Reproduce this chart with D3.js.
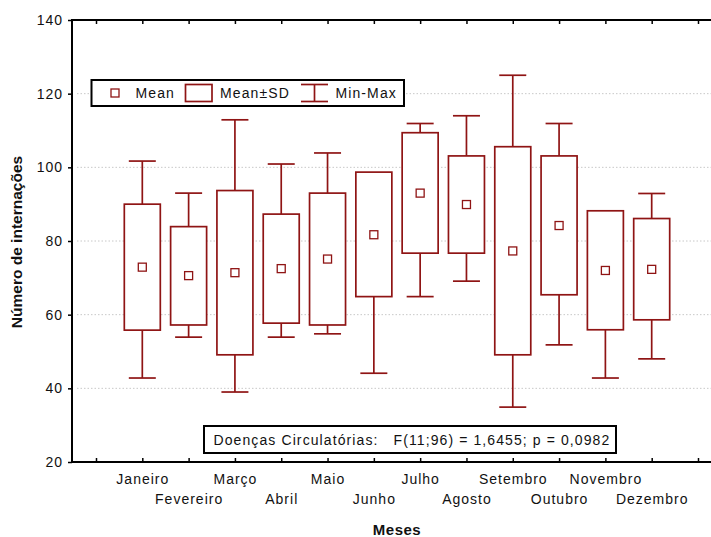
<!DOCTYPE html>
<html>
<head>
<meta charset="utf-8">
<script src="https://cdn.jsdelivr.net/npm/d3@7"></script>
<style>
  html, body { margin: 0; padding: 0; background: #fff; }
  svg { display: block; }
  text { font-family: "Liberation Sans", Arial, sans-serif; fill: #111; }
</style>
</head>
<body>
<svg id="chart" width="711" height="537"></svg>
<script>
// ---- data ----
const months = ["Janeiro", "Fevereiro", "Março", "Abril", "Maio", "Junho",
                "Julho", "Agosto", "Setembro", "Outubro", "Novembro", "Dezembro"];
const means  = [72.9, 70.6, 71.4, 72.5, 75.1, 81.7, 93.0, 89.9, 77.3, 84.2, 72.0, 72.3];
const sdLow  = [55.8, 57.2, 49.1, 57.7, 57.2, 64.9, 76.7, 76.7, 49.1, 65.4, 55.9, 58.6];
const sdHigh = [90.0, 83.9, 93.7, 87.3, 93.0, 98.7, 109.4, 103.1, 105.6, 103.1, 88.2, 86.1];
const mins   = [42.8, 53.9, 39.0, 53.9, 54.8, 44.1, 64.9, 69.1, 34.9, 51.8, 42.8, 48.0];
const maxs   = [101.7, 93.0, 112.9, 100.9, 103.9, 98.7, 111.9, 114.0, 125.0, 111.9, 88.2, 92.9];
const yTicks = [20, 40, 60, 80, 100, 120, 140];
const gridValues = [40, 60, 80, 100, 120];
const legendLabels = ["Mean", "Mean±SD", "Min-Max"];
const annotation = "Doenças Circulatórias:   F(11;96) = 1,6455; p = 0,0982";
const xTitle = "Meses";
const yTitle = "Número de internações";

// ---- layout ----
const W = 711, H = 537;
const pLeft = 72, pTop = 20, pBottom = 462;
const red = "#8f1414";
const svg = d3.select("#chart");

const x = d3.scaleLinear().domain([0, 13]).range([96, 698]);
const y = d3.scaleLinear().domain([20, 140]).range([pBottom, pTop]);

// gridlines
svg.append("g").selectAll("line").data(gridValues).join("line")
  .attr("x1", pLeft + 5).attr("x2", W)
  .attr("y1", d => y(d)).attr("y2", d => y(d))
  .attr("stroke", "#c8c8c8").attr("stroke-width", 1)
  .attr("stroke-dasharray", "1.5,2");

const bw = 36, cw = 27, ms = 8;
const g = svg.append("g").attr("stroke", red).attr("fill", "none").attr("stroke-width", 1.7);
months.forEach((m, i) => {
  const cx = x(i + 1);
  g.append("line").attr("x1", cx).attr("x2", cx).attr("y1", y(sdHigh[i])).attr("y2", y(maxs[i]));
  g.append("line").attr("x1", cx).attr("x2", cx).attr("y1", y(sdLow[i])).attr("y2", y(mins[i]));
  if (maxs[i] > sdHigh[i])
    g.append("line").attr("x1", cx - cw / 2).attr("x2", cx + cw / 2).attr("y1", y(maxs[i])).attr("y2", y(maxs[i]));
  g.append("line").attr("x1", cx - cw / 2).attr("x2", cx + cw / 2).attr("y1", y(mins[i])).attr("y2", y(mins[i]));
  g.append("rect").attr("x", cx - bw / 2).attr("y", y(sdHigh[i]))
    .attr("width", bw).attr("height", y(sdLow[i]) - y(sdHigh[i])).attr("fill", "#fff");
  g.append("rect").attr("x", cx - ms / 2).attr("y", y(means[i]) - ms / 2)
    .attr("width", ms).attr("height", ms).attr("stroke-width", 1.3);
});

const fontSize = "14px";
// left axis
const yAxis = svg.append("g").attr("transform", `translate(${pLeft},0)`)
  .call(d3.axisLeft(y).tickValues(yTicks).tickSize(4).tickPadding(5).tickFormat(d3.format("d")));
yAxis.select(".domain").remove();
yAxis.selectAll("line").attr("stroke", "#000").attr("stroke-width", 1.5);
yAxis.selectAll("text").style("font-size", fontSize).style("letter-spacing", "1px")
  .attr("fill", "#111");

// bottom axis
const xAxis = svg.append("g").attr("transform", `translate(0,${pBottom})`)
  .call(d3.axisBottom(x).tickValues(d3.range(0, 14)).tickSize(-4).tickPadding(14)
    .tickFormat(i => (i >= 1 && i <= 12) ? months[i - 1] : ""));
xAxis.select(".domain").remove();
xAxis.selectAll("line").attr("stroke", "#000").attr("stroke-width", 1.5);
xAxis.selectAll("text").style("font-size", fontSize).style("letter-spacing", "1px")
  .attr("fill", "#111")
  .attr("y", i => (i % 2 === 1) ? 12 : 32);

// top axis
const tAxis = svg.append("g").attr("transform", `translate(0,${pTop})`)
  .call(d3.axisTop(x).tickValues(d3.range(0, 14)).tickSize(-4).tickFormat(""));
tAxis.select(".domain").remove();
tAxis.selectAll("line").attr("stroke", "#000").attr("stroke-width", 1.5);

// frame lines
svg.append("line").attr("x1", pLeft).attr("x2", pLeft).attr("y1", pTop).attr("y2", pBottom)
  .attr("stroke", "#000").attr("stroke-width", 2);
svg.append("line").attr("x1", pLeft - 1).attr("x2", W).attr("y1", pBottom).attr("y2", pBottom)
  .attr("stroke", "#000").attr("stroke-width", 2);
svg.append("line").attr("x1", pLeft - 1).attr("x2", W).attr("y1", pTop).attr("y2", pTop)
  .attr("stroke", "#000").attr("stroke-width", 2);

// legend
const lg = svg.append("g");
lg.append("rect").attr("x", 91.5).attr("y", 80).attr("width", 312.5).attr("height", 26)
  .attr("fill", "#fff").attr("stroke", "#000").attr("stroke-width", 2);
const ly = 93;
lg.append("rect").attr("x", 111).attr("y", ly - 4).attr("width", 8).attr("height", 8)
  .attr("fill", "none").attr("stroke", red).attr("stroke-width", 1.3);
lg.append("rect").attr("x", 185.5).attr("y", 84.5).attr("width", 26.5).attr("height", 17)
  .attr("fill", "none").attr("stroke", red).attr("stroke-width", 1.7);
const wl = lg.append("g").attr("stroke", red).attr("stroke-width", 1.7);
wl.append("line").attr("x1", 301).attr("x2", 328).attr("y1", 84.5).attr("y2", 84.5);
wl.append("line").attr("x1", 301).attr("x2", 328).attr("y1", 101.5).attr("y2", 101.5);
wl.append("line").attr("x1", 314.5).attr("x2", 314.5).attr("y1", 84.5).attr("y2", 101.5);
const lx = [135.5, 220, 335.5];
lg.selectAll("text.leg").data(legendLabels).join("text").attr("class", "leg")
  .attr("x", (d, i) => lx[i]).attr("y", ly + 5)
  .style("font-size", fontSize).style("letter-spacing", "1.1px")
  .text(d => d);

// annotation
svg.append("rect").attr("x", 204).attr("y", 426).attr("width", 412).attr("height", 27)
  .attr("fill", "#fff").attr("stroke", "#000").attr("stroke-width", 2);
svg.append("text").attr("x", 213.5).attr("y", 444.5)
  .style("font-size", fontSize).style("letter-spacing", "1.1px")
  .style("white-space", "pre")
  .text(annotation);

// titles
svg.append("text").attr("x", 397).attr("y", 535).attr("text-anchor", "middle")
  .style("font-size", "15px").style("font-weight", "bold").style("letter-spacing", "0.5px")
  .text(xTitle);
svg.append("text").attr("transform", "translate(22,242) rotate(-90)").attr("text-anchor", "middle")
  .style("font-size", "15.5px").style("font-weight", "bold")
  .text(yTitle);
</script>
</body>
</html>
